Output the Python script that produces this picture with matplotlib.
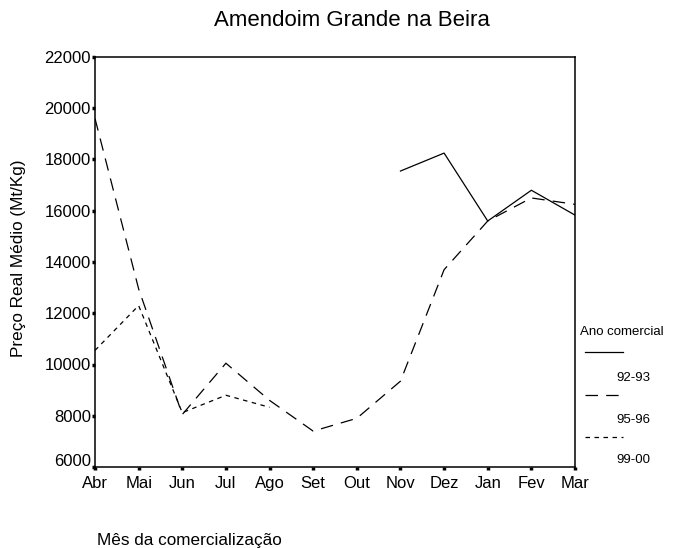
import numpy as np
import matplotlib
matplotlib.use("Agg")
import matplotlib.pyplot as plt
from matplotlib.lines import Line2D
from matplotlib.transforms import ScaledTranslation

plt.rcParams['font.family'] = ['Liberation Sans', 'DejaVu Sans']

meses = ['Abr', 'Mai', 'Jun', 'Jul', 'Ago', 'Set', 'Out', 'Nov', 'Dez', 'Jan', 'Fev', 'Mar']
nan = np.nan
preco_92_93 = [nan, nan, nan, nan, nan, nan, nan, 17550, 18250, 15600, 16800, 15830]
preco_95_96 = [19600, 12950, 8050, 10050, 8600, 7400, 7900, 9350, 13700, 15600, 16500, 16250]
preco_99_00 = [10550, 12300, 8120, 8800, 8330, nan, nan, nan, nan, nan, nan, nan]
series = ['92-93', '95-96', '99-00']
yticks = [6000, 8000, 10000, 12000, 14000, 16000, 18000, 20000, 22000]

W, H = 682, 548
fig = plt.figure(figsize=(W / 100, H / 100), dpi=100)
ax = fig.add_axes([95 / W, 1 - 467 / H, 480 / W, 410 / H])

x = np.arange(len(meses))
estilos = ['-', (0, (10, 6.5)), (0, (3.6, 3.6))]
for vals, ls in zip([preco_92_93, preco_95_96, preco_99_00], estilos):
    ax.plot(x, vals, color='black', lw=0.9, linestyle=ls)

ax.set_xlim(0, len(meses) - 1)
ax.set_ylim(6000, 22000)
ax.set_xticks(x)
ax.set_xticklabels(meses)
ax.set_yticks(yticks)
ax.set_yticklabels([str(v) for v in yticks])
ax.tick_params(direction='out', length=2.5, width=2.5, labelsize=12)
ax.tick_params(axis='x', pad=4)
ax.tick_params(axis='y', pad=0.5)
for s in ax.spines.values():
    s.set_linewidth(1.1)

# o rótulo 6000 fica um pouco acima do traço
lab0 = ax.get_yticklabels()[0]
lab0.set_transform(lab0.get_transform() + ScaledTranslation(0, 7 / 100, fig.dpi_scale_trans))

fig.text(352 / W, 1 - 21 / H, 'Amendoim Grande na Beira', ha='center', va='center', fontsize=16)
fig.text(97 / W, 1 - 540 / H, 'Mês da comercialização', ha='left', va='center', fontsize=12.3)
fig.text(19 / W, 1 - 258 / H, 'Preço Real Médio (Mt/Kg)', ha='center', va='center',
         rotation=90, fontsize=12.3)

# legenda manual fora do eixo
fig.text(580 / W, 1 - 332 / H, 'Ano comercial', ha='left', va='center', fontsize=9.5)
ys_linha = [352, 395, 437]
ys_texto = [378, 420, 460]
for nome, ls, yl, yt in zip(series, estilos, ys_linha, ys_texto):
    fig.add_artist(Line2D([585 / W, 623 / W], [1 - yl / H, 1 - yl / H], color='black',
                          lw=0.9, linestyle=ls, transform=fig.transFigure))
    fig.text(616 / W, 1 - yt / H, nome, ha='left', va='center', fontsize=9.5)

fig.savefig('out.png', dpi=100)
